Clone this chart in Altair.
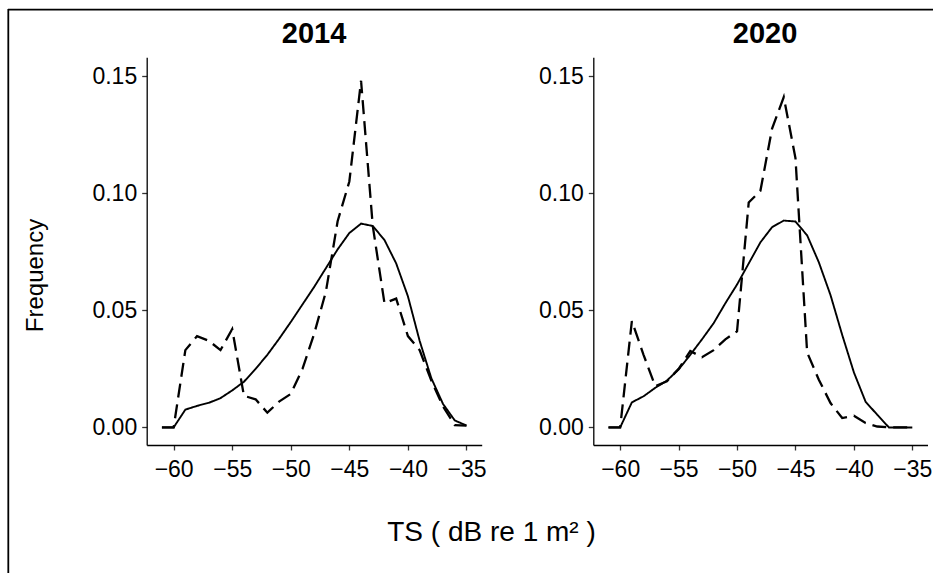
import altair as alt
import pandas as pd

# ---------------- data ----------------
ts_db = [-61, -60, -59, -58, -57, -56, -55, -54, -53, -52, -51, -50, -49, -48,
         -47, -46, -45, -44, -43, -42, -41, -40, -39, -38, -37, -36, -35]

freq_2014_model = [0.0, 0.0, 0.0076, 0.0092, 0.0105, 0.0125, 0.0158, 0.0195, 0.0250,
                   0.0310, 0.0378, 0.0450, 0.0525, 0.0600, 0.0680, 0.0760, 0.0830,
                   0.0870, 0.0860, 0.0800, 0.0700, 0.0560, 0.0370, 0.0210, 0.0100,
                   0.0030, 0.0008]
freq_2014_obs = [0.0, 0.0, 0.033, 0.039, 0.037, 0.033, 0.042, 0.0135, 0.012, 0.0063,
                 0.011, 0.0143, 0.025, 0.040, 0.058, 0.088, 0.105, 0.148, 0.086,
                 0.053, 0.055, 0.039, 0.033, 0.020, 0.009, 0.001, 0.0008]
freq_2020_model = [0.0, 0.0, 0.0107, 0.0133, 0.0169, 0.0200, 0.0247, 0.0310, 0.0376,
                   0.0445, 0.0530, 0.0610, 0.0700, 0.0790, 0.0855, 0.0883, 0.0879,
                   0.0820, 0.0705, 0.0565, 0.0395, 0.0235, 0.0110, 0.0054, 0.0,
                   0.0, 0.0]
freq_2020_obs = [0.0, 0.0, 0.0454, 0.031, 0.0176, 0.0197, 0.025, 0.0326, 0.030,
                 0.033, 0.0376, 0.041, 0.096, 0.101, 0.1276, 0.141, 0.115, 0.032,
                 0.0204, 0.0104, 0.004, 0.005, 0.0019, 0.0004, 0.0, 0.0, 0.0]

series_names = ["Model", "Observed"]
panel_titles = ["2014", "2020"]
x_ticks = [-60, -55, -50, -45, -40, -35]
y_ticks = [0.0, 0.05, 0.10, 0.15]


def panel_df(model, obs):
    return pd.DataFrame({
        "TS": ts_db + ts_db,
        "Frequency": model + obs,
        "series": [series_names[0]] * len(ts_db) + [series_names[1]] * len(ts_db),
    })


df14 = panel_df(freq_2014_model, freq_2014_obs)
df20 = panel_df(freq_2020_model, freq_2020_obs)

# ---------------- layout ----------------
W, H = 925, 564
X1_RANGE = [138.7, 473.7]
X2_RANGE = [585.3, 919.5]
Y_RANGE = [436, 48.3]
X_DOMAIN = [-62.3, -33.7]
Y_DOMAIN = [-0.0075, 0.158]
FONT = "Liberation Sans"

dash = alt.StrokeDash(
    "series:N",
    scale=alt.Scale(domain=series_names, range=[[1, 0], [14, 7]]),
    legend=None,
)
width_enc = alt.StrokeWidth(
    "series:N",
    scale=alt.Scale(domain=series_names, range=[1.9, 2.3]),
    legend=None,
)

common_axis = dict(
    grid=False,
    labelFont=FONT,
    labelFontSize=23,
    labelColor="black",
    tickColor="#333333",
    tickSize=5,
    tickWidth=1.3,
    domainColor="black",
    domainWidth=1.3,
    labelFlush=False,
    labelOverlap=False,
)


def panel(df, xrange, first):
    x_axis = alt.Axis(
        orient="bottom",
        offset=436 - H,
        values=x_ticks,
        labelPadding=8,
        title="TS ( dB re 1 m² )" if first else None,
        titleFont=FONT,
        titleFontSize=28,
        titleFontWeight="normal",
        titleColor="black",
        titleX=483,
        titleY=95,
        titleAlign="center",
        titleBaseline="alphabetic",
        **common_axis,
    )
    y_axis = alt.Axis(
        orient="left",
        offset=-(xrange[0]),
        values=y_ticks,
        format=".2f",
        labelPadding=5,
        title="Frequency" if first else None,
        titleFont=FONT,
        titleFontSize=24,
        titleFontWeight="normal",
        titleColor="black",
        titleAngle=270,
        titleX=-104.7,
        titleY=266,
        titleAlign="center",
        titleBaseline="alphabetic",
        **common_axis,
    )
    return alt.Chart(df).mark_line(color="black").encode(
        x=alt.X("TS:Q", scale=alt.Scale(domain=X_DOMAIN, range=xrange, nice=False, zero=False),
                axis=x_axis),
        y=alt.Y("Frequency:Q", scale=alt.Scale(domain=Y_DOMAIN, range=Y_RANGE, nice=False, zero=False),
                axis=y_axis),
        strokeDash=dash,
        strokeWidth=width_enc,
    )


def header(label, cx):
    return alt.Chart(pd.DataFrame({"label": [label]})).mark_text(
        font=FONT, fontSize=29, fontWeight="bold", color="black",
        align="center", baseline="alphabetic",
    ).encode(text="label:N", x=alt.value(cx), y=alt.value(34.3))


dummy = pd.DataFrame({"d": [0]})
border_left = alt.Chart(dummy).mark_rule(color="black", strokeWidth=1.8).encode(
    x=alt.value(0.3), y=alt.value(0), y2=alt.value(H))
border_top = alt.Chart(dummy).mark_rule(color="black", strokeWidth=1.8).encode(
    y=alt.value(0.7), x=alt.value(0), x2=alt.value(W))

chart = alt.layer(
    panel(df14, X1_RANGE, True),
    panel(df20, X2_RANGE, False),
    header(panel_titles[0], 306),
    header(panel_titles[1], 757),
    border_left,
    border_top,
).resolve_scale(
    x="independent", y="independent"
).resolve_axis(
    x="independent", y="independent"
).properties(
    width=W,
    height=H,
    autosize=alt.AutoSizeParams(type="none"),
    padding={"left": 8, "top": 9, "right": 0, "bottom": 0},
    background="white",
).configure_view(stroke=None)

chart.save("out.html", embed_options={"renderer": "svg", "actions": False})
